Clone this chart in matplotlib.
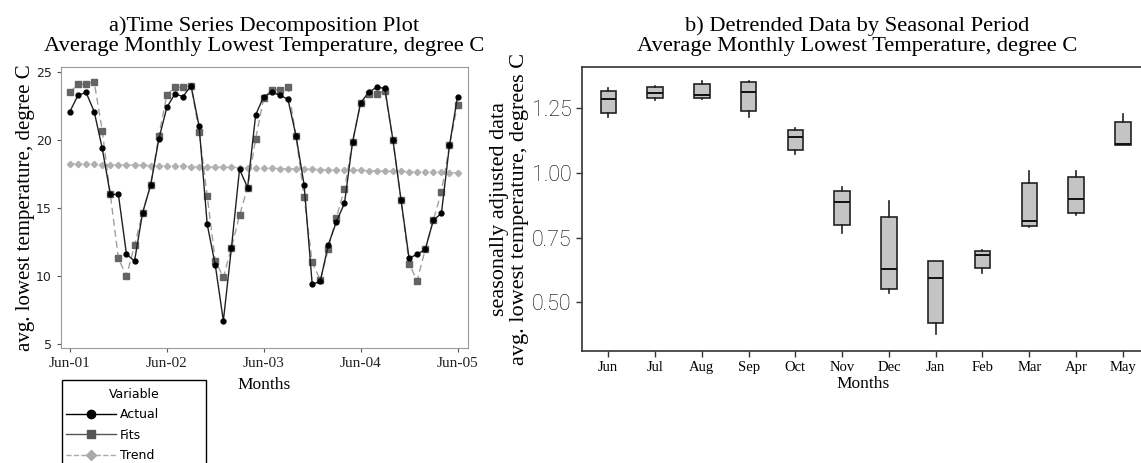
import numpy as np
import matplotlib
matplotlib.use("Agg")
import matplotlib.pyplot as plt
from matplotlib.lines import Line2D
from matplotlib.patches import Rectangle

# ---- panel a: decomposition, Jun-01 .. Jun-05 ----
actual = [22.1, 23.3, 23.5, 22.1, 19.4, 16.0, 16.0, 11.6, 11.1, 14.65, 16.7, 20.05,
          22.4, 23.4, 23.2, 24.0, 21.0, 13.8, 10.8, 6.7, 12.06, 17.85, 16.5, 21.86,
          23.2, 23.5, 23.3, 23.0, 20.3, 16.7, 9.4, 9.6, 12.3, 14.0, 15.35, 19.85,
          22.75, 23.5, 23.9, 23.8, 20.0, 15.6, 11.3, 11.6, 11.95, 14.1, 14.6, 19.6,
          23.2]
fits = [23.5, 24.1, 24.1, 24.3, 20.7, 16.0, 11.3, 10.0, 12.25, 14.65, 16.7, 20.3,
        23.3, 23.9, 23.9, 24.0, 20.6, 15.9, 11.1, 9.9, 12.06, 14.46, 16.5, 20.1,
        23.1, 23.7, 23.7, 23.9, 20.3, 15.8, 11.0, 9.7, 12.0, 14.3, 16.4, 19.85,
        22.75, 23.4, 23.4, 23.6, 20.0, 15.6, 10.9, 9.66, 11.95, 14.1, 16.2, 19.6,
        22.6]
trend = [18.26, 18.25, 18.23, 18.22, 18.20, 18.19, 18.18, 18.16, 18.15, 18.14, 18.12, 18.11,
         18.09, 18.08, 18.07, 18.05, 18.04, 18.03, 18.01, 18.00, 17.99, 17.97, 17.96, 17.94,
         17.93, 17.92, 17.90, 17.89, 17.88, 17.86, 17.85, 17.83, 17.82, 17.81, 17.79, 17.78,
         17.77, 17.75, 17.74, 17.72, 17.71, 17.70, 17.68, 17.67, 17.66, 17.64, 17.63, 17.61,
         17.60]
year_ticks = [0, 12, 24, 36, 48]
year_labels = ["Jun-01", "Jun-02", "Jun-03", "Jun-04", "Jun-05"]

# ---- panel b: detrended data by month (whislo, q1, med, q3, whishi) ----
months = ["Jun", "Jul", "Aug", "Sep", "Oct", "Nov", "Dec", "Jan", "Feb", "Mar", "Apr", "May"]
whislo = [1.218, 1.283, 1.288, 1.218, 1.072, 0.766, 0.534, 0.375, 0.614, 0.790, 0.837, 1.109]
q1 = [1.231, 1.290, 1.289, 1.241, 1.087, 0.800, 0.551, 0.420, 0.632, 0.794, 0.844, 1.109]
med = [1.286, 1.310, 1.300, 1.312, 1.139, 0.887, 0.627, 0.594, 0.683, 0.813, 0.899, 1.113]
q3 = [1.318, 1.331, 1.344, 1.350, 1.166, 0.931, 0.829, 0.660, 0.699, 0.960, 0.985, 1.197]
whishi = [1.327, 1.337, 1.356, 1.356, 1.175, 0.944, 0.890, 0.660, 0.700, 1.008, 1.008, 1.227]

serif = "Liberation Serif"

fig = plt.figure(figsize=(11.41, 4.63), dpi=100)

# ---------------- left panel ----------------
ax1 = fig.add_axes([0.0535, 0.2484, 0.3567, 0.6076])
t = np.arange(len(actual))
ax1.plot(t, trend, color="#bbbbbb", ls="--", lw=1, marker="D", ms=3.2,
         mfc="#b0b0b0", mec="#b0b0b0", zorder=1)
ax1.plot(t, fits, color="#a0a0a0", ls=(0, (5, 3)), lw=1, marker="s", ms=4.5,
         mfc="#646464", mec="#646464", zorder=2)
ax1.plot(t, actual, color="#202020", lw=1, marker="o", ms=3.5,
         mfc="black", mec="black", zorder=3)
ax1.set_xlim(-1.1, 49.3)
ax1.set_ylim(4.7, 25.4)
ax1.set_yticks([5, 10, 15, 20, 25])
ax1.set_xticks(year_ticks)
ax1.set_xticklabels(year_labels, fontfamily=serif, fontsize=11)
for lab in ax1.get_yticklabels():
    lab.set_fontsize(9)
for s in ax1.spines.values():
    s.set_color("#999999")
ax1.tick_params(colors="#555555", length=3, labelcolor="#222222")
ax1.set_xlabel("Months", fontfamily=serif, fontsize=12.5, labelpad=5)
ax1.set_ylabel("avg. lowest temperature, degree C", fontfamily=serif, fontsize=15,
               labelpad=1)
ax1.set_title("a)Time Series Decomposition Plot\nAverage Monthly Lowest Temperature, degree C",
              fontfamily=serif, fontsize=16.2, linespacing=1.1, pad=11)

# legend box (Minitab style, cut off at the bottom of the figure)
fig.patches.append(Rectangle((62 / 1141, -0.05), 144 / 1141, 0.05 + (463 - 380) / 463,
                             transform=fig.transFigure, fill=False,
                             edgecolor="black", lw=1))
handles = [
    Line2D([], [], color="black", lw=1, marker="o", ms=6),
    Line2D([], [], color="#555555", lw=1, marker="s", ms=6),
    Line2D([], [], color="#aaaaaa", lw=1, ls="--", marker="D", ms=5),
]
leg = fig.legend(handles, ["Actual", "Fits", "Trend"], title="Variable",
                 loc="upper left", bbox_to_anchor=(0.056, 0.168),
                 prop={"size": 9}, title_fontsize=9, frameon=False,
                 borderpad=0.2, handlelength=4.0, handletextpad=0.3,
                 labelspacing=0.6, borderaxespad=0)
leg._legend_box.align = "right"

# ---------------- right panel ----------------
ax2 = fig.add_axes([0.5101, 0.2425, 0.492, 0.6134])
stats = []
for i in range(len(months)):
    stats.append({"whislo": whislo[i], "q1": q1[i], "med": med[i],
                  "q3": q3[i], "whishi": whishi[i], "fliers": []})
ax2.bxp(stats, positions=range(1, len(months) + 1), widths=0.33,
        patch_artist=True, showcaps=False, showfliers=False,
        boxprops=dict(facecolor="#c4c4c4", edgecolor="#222222", lw=1.2),
        medianprops=dict(color="#111111", lw=1.4),
        whiskerprops=dict(color="#222222", lw=1.2))
ax2.set_xlim(0.44, 12.44)
ax2.set_ylim(0.312, 1.411)
ax2.set_yticks([0.50, 0.75, 1.00, 1.25])
ax2.set_yticklabels(["0.50", "0.75", "1.00", "1.25"], fontfamily="Roboto",
                    fontweight="light", fontsize=15.5)
ax2.set_xticks(range(1, len(months) + 1))
ax2.set_xticklabels(months, fontfamily=serif, fontsize=10.5)
ax2.spines["right"].set_visible(False)
for k in ["left", "bottom", "top"]:
    ax2.spines[k].set_color("#333333")
    ax2.spines[k].set_linewidth(1.2)
ax2.tick_params(length=4, width=1, color="#333333")
ax2.set_xlabel("Months", fontfamily=serif, fontsize=12.5, labelpad=1)
ax2.set_ylabel("seasonally adjusted data\navg. lowest temperature, degrees C",
               fontfamily=serif, fontsize=16, linespacing=1.1, labelpad=2)
ax2.set_title("b) Detrended Data by Seasonal Period\nAverage Monthly Lowest Temperature, degree C",
              fontfamily=serif, fontsize=16.2, linespacing=1.1, pad=11, x=0.49)

fig.savefig("out.png", dpi=100)
